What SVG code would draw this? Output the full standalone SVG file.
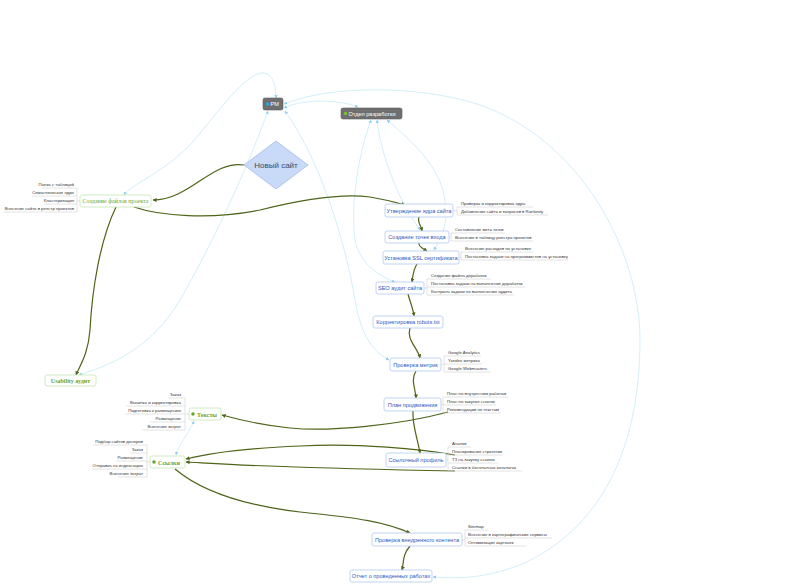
<svg xmlns="http://www.w3.org/2000/svg" width="800" height="586" viewBox="0 0 800 586">
<defs>
<marker id="ao" viewBox="0 0 10 10" refX="9" refY="5" markerWidth="4" markerHeight="4" orient="auto-start-reverse" markerUnits="userSpaceOnUse"><path d="M0,0 L10,5 L0,10 z" fill="#4e6419"/></marker>
<marker id="ab" viewBox="0 0 10 10" refX="9" refY="5" markerWidth="3.5" markerHeight="3.5" orient="auto-start-reverse" markerUnits="userSpaceOnUse"><path d="M0,0 L10,5 L0,10 z" fill="#8fd0ee"/></marker>
<style>
.bn{fill:#fff;stroke:#b3c9f0;stroke-width:0.8}
.bt{font-family:"Liberation Sans",Arial,sans-serif;font-size:5.6px;fill:#2a5cc0;text-anchor:middle}
.gn{fill:#fff;stroke:#c4e4b4;stroke-width:0.8}
.gt{font-family:"Liberation Serif","Times New Roman",serif;font-size:6px;fill:#6aa531;text-anchor:middle}
.dn{fill:#6f6f6f;stroke:#5a5a5a;stroke-width:0.6}
.dt{font-family:"Liberation Sans",Arial,sans-serif;font-size:5.6px;fill:#fff}
.lb{font-family:"Liberation Sans",Arial,sans-serif;font-size:4.3px;fill:#333}
.lr{text-anchor:end}
.ul{stroke:#d2d2d2;stroke-width:0.6;fill:none}
.ol{stroke:#4e6419;stroke-width:1.2;fill:none;marker-end:url(#ao)}
.bl{stroke:#b6e2f3;stroke-width:0.6;fill:none;marker-end:url(#ab);marker-start:url(#ab)}
</style>
</defs>
<rect width="800" height="586" fill="#fff"/>

<g id="connectors">
<path class="bl" d="M276,98 C276,85 272,72 262,73 C245,74 220,110 190,145 C160,175 130,185 124,195"/>
<path class="bl" d="M268,111 C250,160 220,230 180,300 C150,350 110,365 79,375"/>
<path class="bl" d="M285,111 C320,160 345,240 355,300 C362,340 375,352 389,360"/>
<path class="bl" d="M284,108 C300,100 335,98 358,107"/>
<path class="bl" d="M284,104 C330,85 420,85 480,105 C580,140 640,250 640,340 C640,450 600,530 520,565 C480,580 455,578 433,577"/>
<path class="bl" d="M371,120 C360,150 350,200 355,240 C360,265 380,276 395,282"/>
<path class="bl" d="M377,120 C380,150 395,190 410,215 C416,224 419,228 420,230"/>
<path class="bl" d="M387,120 C410,140 440,165 445,200 C449,225 440,240 434,250"/>
<path class="bl" d="M194,421 C188,435 178,445 176,455"/>

<path class="ol" d="M244,165 C212,160 190,200 153,200"/>
<path class="ol" d="M134,207 C160,216 210,220 260,210 C300,200 340,193 370,197 C388,200 398,203 405,205"/>
<path class="ol" d="M116,207 C100,240 92,290 90,330 C88,355 80,365 76,375"/>
<path class="ol" d="M419,217 C417,222 421,225 422,231"/>
<path class="ol" d="M419,243 C418,247 424,249 427,251"/>
<path class="ol" d="M417,264 C413,270 413,276 412,282"/>
<path class="ol" d="M408,294 C410,302 413,308 414,316"/>
<path class="ol" d="M410,328 C406,340 418,348 420,358"/>
<path class="ol" d="M416,371 C410,380 416,390 416,398"/>
<path class="ol" d="M413,411 C412,425 418,440 420,453"/>
<path class="ol" d="M448,412 C400,425 330,432 290,428 C260,425 240,420 222,415"/>
<path class="ol" d="M455,455 C420,449 360,443 300,446 C250,448 210,453 186,459"/>
<path class="ol" d="M455,471 C400,470 320,468 270,466 C230,465 205,463 186,462"/>
<path class="ol" d="M175,469 C200,490 240,505 300,512 C360,518 385,522 410,533"/>
<path class="ol" d="M410,546 C402,555 404,563 402,570"/>
</g>

<g id="pm">
<rect class="dn" x="263" y="98" width="20" height="12" rx="2"/>
<circle cx="267.5" cy="104" r="1.8" fill="#2aa8e6"/>
<text class="dt" x="270.5" y="106">PM</text>
</g>

<g id="otdel">
<rect class="dn" x="341" y="108" width="61" height="11" rx="2"/>
<circle cx="345.5" cy="113.5" r="1.8" fill="#7cc02e"/>
<text class="dt" x="348.5" y="115.5">Отдел разработки</text>
</g>

<g id="new-site">
<polygon points="276,141 308,165 276,189 244,165" fill="#c9daf8" stroke="#a6bee8" stroke-width="0.8"/>
<text x="276" y="168" font-family="Liberation Sans, Arial, sans-serif" font-size="8" fill="#3c4a5e" text-anchor="middle">Новый сайт</text>
</g>

<g id="create-files">
<rect class="gn" x="80" y="195" width="71" height="12" rx="2"/>
<text class="gt" x="115.5" y="203">Создание файлов проекта</text>
<path class="ul" d="M80,201 H77 M77,188 V212 M42,188 H77 M32,196 H77 M44,204 H77 M4,212 H77"/>
<text class="lb lr" x="74" y="186">Папка с таблицей</text>
<text class="lb lr" x="74" y="194">Семантическое ядро</text>
<text class="lb lr" x="74" y="202">Кластеризация</text>
<text class="lb lr" x="74" y="210">Внесение сайта в реестр проектов</text>
</g>

<g id="usability">
<rect class="gn" x="45" y="375" width="51" height="11" rx="2"/>
<text class="gt" x="70.5" y="383" font-weight="bold">Usability аудит</text>
</g>

<g id="core">
<rect class="bn" x="385" y="204" width="68" height="13" rx="2"/>
<text class="bt" x="419" y="212.5">Утверждение ядра сайта</text>
<path class="ul" d="M453,210.5 H457 M457,207 V215 M457,207 H533 M457,215 H548"/>
<text class="lb" x="461" y="205">Проверка и корректировка ядра</text>
<text class="lb" x="461" y="213">Добавление сайта и запросов в Rankinity</text>
</g>

<g id="entry">
<rect class="bn" x="385" y="231" width="64" height="12" rx="2"/>
<text class="bt" x="417" y="239">Создание точек входа</text>
<path class="ul" d="M449,237 H451 M451,233 V241 M451,233 H505 M451,241 H533"/>
<text class="lb" x="455" y="231">Составление мета тегов</text>
<text class="lb" x="455" y="239">Внесение в таблицу реестра проектов</text>
</g>

<g id="ssl">
<rect class="bn" x="383" y="251" width="76" height="13" rx="2"/>
<text class="bt" x="421" y="259.5">Установка SSL сертификата</text>
<path class="ul" d="M459,257.5 H461 M461,252 V260 M461,252 H533 M461,260 H568"/>
<text class="lb" x="465" y="250">Внесение расходов по установке</text>
<text class="lb" x="465" y="258">Постановка задачи на программистов на установку</text>
</g>

<g id="seo">
<rect class="bn" x="376" y="282" width="48" height="12" rx="2"/>
<text class="bt" x="400" y="290">SEO аудит сайта</text>
<path class="ul" d="M424,288 H427 M427,279 V295 M427,279 H491 M427,287 H525 M427,295 H514"/>
<text class="lb" x="431" y="277">Создание файла доработок</text>
<text class="lb" x="431" y="285">Постановка задачи на выполнение доработок</text>
<text class="lb" x="431" y="293">Контроль задачи по выполнению аудита</text>
</g>

<g id="robots">
<rect class="bn" x="373" y="316" width="70" height="12" rx="2"/>
<text class="bt" x="408" y="324">Корректировка robots.txt</text>
</g>

<g id="metrics">
<rect class="bn" x="390" y="358" width="51" height="13" rx="2"/>
<text class="bt" x="415.5" y="366.5">Проверка метрик</text>
<path class="ul" d="M441,364.5 H444 M444,356 V372 M444,356 H481 M444,364 H482 M444,372 H491"/>
<text class="lb" x="448" y="354">Google Analytics</text>
<text class="lb" x="448" y="362">Yandex метрика</text>
<text class="lb" x="448" y="370">Google Webmasters</text>
</g>

<g id="plan">
<rect class="bn" x="384" y="398" width="57" height="13" rx="2"/>
<text class="bt" x="412.5" y="406.5">План продвижения</text>
<path class="ul" d="M441,404.5 H443 M443,397 V413 M443,397 H508 M443,405 H496 M443,413 H501"/>
<text class="lb" x="447" y="395">План по внутренним работам</text>
<text class="lb" x="447" y="403">План по закупке ссылок</text>
<text class="lb" x="447" y="411">Рекомендации по текстам</text>
</g>

<g id="link-profile">
<rect class="bn" x="386" y="453" width="60" height="14" rx="2"/>
<text class="bt" x="416" y="462">Ссылочный профиль</text>
<path class="ul" d="M446,460 H448 M448,447 V471 M448,447 H471 M448,455 H503 M448,463 H498 M448,471 H522"/>
<text class="lb" x="452" y="445">Анализ</text>
<text class="lb" x="452" y="453">Планирование стратегии</text>
<text class="lb" x="452" y="461">ТЗ на закупку ссылок</text>
<text class="lb" x="452" y="469">Ссылки в бесплатных каталогах</text>
</g>

<g id="texts">
<rect class="gn" x="189" y="408" width="32" height="12" rx="2"/>
<circle cx="193" cy="414" r="1.8" fill="#6aa531"/>
<text class="gt" x="207" y="416.5" font-weight="bold">Тексты</text>
<path class="ul" d="M189,414 H185 M185,398 V430 M168,398 H185 M126,406 H185 M125,414 H185 M150,422 H185 M142,430 H185"/>
<text class="lb lr" x="181" y="396">Заказ</text>
<text class="lb lr" x="181" y="404">Вычитка и корректировка</text>
<text class="lb lr" x="181" y="412">Подготовка к размещению</text>
<text class="lb lr" x="181" y="420">Размещение</text>
<text class="lb lr" x="181" y="428">Внесение затрат</text>
</g>

<g id="links">
<rect class="gn" x="150" y="456" width="35" height="12" rx="2"/>
<circle cx="154" cy="462" r="1.8" fill="#6aa531"/>
<text class="gt" x="169" y="464.5" font-weight="bold">Ссылки</text>
<path class="ul" d="M150,462 H147 M147,445 V477 M93,445 H147 M130,453 H147 M116,461 H147 M92,469 H147 M118,477 H147"/>
<text class="lb lr" x="143" y="443">Подбор сайтов доноров</text>
<text class="lb lr" x="143" y="451">Заказ</text>
<text class="lb lr" x="143" y="459">Размещение</text>
<text class="lb lr" x="143" y="467">Отправка на индексацию</text>
<text class="lb lr" x="143" y="475">Внесение затрат</text>
</g>

<g id="content-check">
<rect class="bn" x="372" y="533" width="90" height="13" rx="2"/>
<text class="bt" x="417" y="541.5">Проверка внедренного контента</text>
<path class="ul" d="M462,539.5 H465 M465,530 V546 M465,530 H488 M465,538 H552 M465,546 H526"/>
<text class="lb" x="468" y="528">Sitemap</text>
<text class="lb" x="468" y="536">Внесение в картографические сервисы</text>
<text class="lb" x="468" y="544">Оптимизация карточек</text>
</g>

<g id="report">
<rect class="bn" x="350" y="570" width="82" height="12" rx="2"/>
<text class="bt" x="391" y="578">Отчет о проведенных работах</text>
</g>
</svg>
